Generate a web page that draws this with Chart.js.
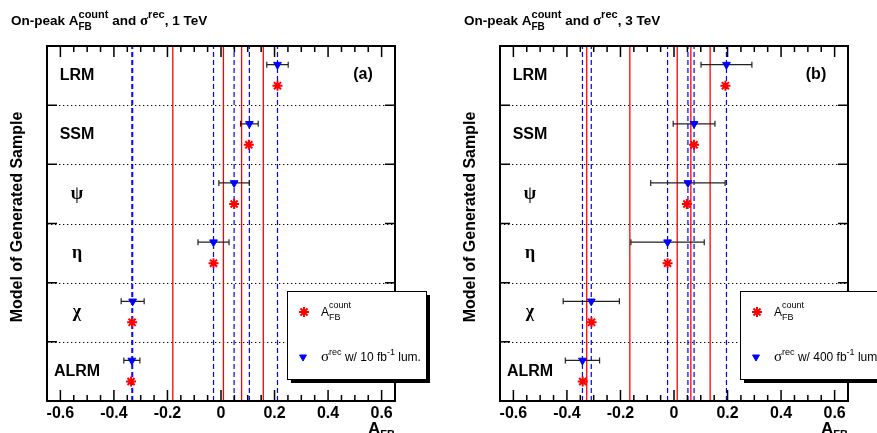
<!DOCTYPE html>
<html><head><meta charset="utf-8">
<script src="https://cdn.jsdelivr.net/npm/chart.js@4.4.0/dist/chart.umd.min.js"></script>
<style>
html,body{margin:0;padding:0;overflow:hidden;background:#fff;width:877px;height:433px;}
canvas{position:absolute;top:0;}
#c1{left:0}
#c2{left:453px}
</style></head><body>
<canvas id="c1" width="440" height="433"></canvas>
<canvas id="c2" width="440" height="433"></canvas>
<script>
// ---- data ----
const categories = ['LRM', 'SSM', 'ψ', 'η', 'χ', 'ALRM'];   // top to bottom
const xTickLabels = [-0.6, -0.4, -0.2, 0, 0.2, 0.4, 0.6];

// 1 TeV
const afbCount1 = [0.211, 0.104, 0.049, -0.028, -0.332, -0.336];
const sigmaRec1 = [0.211, 0.106, 0.049, -0.028, -0.330, -0.333];
const sigmaErr1 = [0.040, 0.033, 0.057, 0.058, 0.043, 0.030];
const redLines1 = [-0.180, 0.009, 0.077, 0.158];
const blueLines1 = [-0.333, -0.330, -0.028, 0.049, 0.106, 0.211];

// 3 TeV
const afbCount3 = [0.192, 0.075, 0.048, -0.024, -0.308, -0.341];
const sigmaRec3 = [0.196, 0.075, 0.052, -0.024, -0.309, -0.342];
const sigmaErr3 = [0.095, 0.078, 0.139, 0.137, 0.105, 0.064];
const redLines3 = [-0.326, -0.165, 0.012, 0.063, 0.135];
const blueLines3 = [-0.342, -0.309, -0.024, 0.052, 0.075, 0.196];

const FONT = "'Liberation Sans', Arial, Helvetica, sans-serif";
const SERIF = "'Liberation Serif', 'DejaVu Serif', serif";

function drawSegs(ctx, x, y, segs, weight) {
  let stackW = null;
  for (const s of segs) {
    ctx.font = `${weight} ${s.size}px ${s.serif ? SERIF : FONT}`;
    ctx.fillText(s.t, x, y + (s.dy || 0));
    const w = ctx.measureText(s.t).width;
    if (s.stack) { stackW = w; }
    else if (stackW !== null) { x += Math.max(stackW, w); stackW = null; }
    else x += w;
  }
}

const panelPlugin = {
  id: 'panel',
  beforeDatasetsDraw(chart) {
    const {ctx, chartArea: a, scales: {y}} = chart;
    ctx.save();
    ctx.strokeStyle = '#000';
    ctx.lineWidth = 1.2;
    ctx.setLineDash([1.3, 2.7]);
    for (let k = 1; k < categories.length; k++) {
      const py = Math.round(y.getPixelForValue(k)) + 0.5;
      ctx.beginPath(); ctx.moveTo(a.left, py); ctx.lineTo(a.right, py); ctx.stroke();
    }
    ctx.restore();
  },
  beforeDatasetDraw(chart, args) {
    const ds = chart.data.datasets[args.index];
    if (!ds.errs) return;
    const {ctx, scales: {x, y}} = chart;
    ctx.save();
    ctx.strokeStyle = '#222';
    ctx.lineWidth = 1.2;
    ds.data.forEach((p, i) => {
      const e = ds.errs[i];
      const x0 = x.getPixelForValue(p.x - e), x1 = x.getPixelForValue(p.x + e);
      const py = y.getPixelForValue(p.y);
      ctx.beginPath();
      ctx.moveTo(x0, py); ctx.lineTo(x1, py);
      ctx.moveTo(x0, py - 3); ctx.lineTo(x0, py + 3);
      ctx.moveTo(x1, py - 3); ctx.lineTo(x1, py + 3);
      ctx.stroke();
    });
    ctx.restore();
  },
  afterDraw(chart) {
    const {ctx, chartArea: a, scales: {x, y}} = chart;
    const P = chart.options.plugins.panel;
    ctx.save();
    ctx.fillStyle = '#000';
    ctx.strokeStyle = '#000';
    // x ticks top & bottom (inward)
    ctx.lineWidth = 1.5;
    for (let k = -13; k <= 13; k++) {
      const v = k * 0.05;
      const px = x.getPixelForValue(v);
      const len = (k % 4 === 0) ? 11 : 6;
      ctx.beginPath();
      ctx.moveTo(px, a.bottom); ctx.lineTo(px, a.bottom - len);
      ctx.moveTo(px, a.top); ctx.lineTo(px, a.top + len);
      ctx.stroke();
    }
    // y ticks at row boundaries
    for (let k = 1; k < categories.length; k++) {
      const py = y.getPixelForValue(k);
      ctx.beginPath();
      ctx.moveTo(a.left, py); ctx.lineTo(a.left + 10, py);
      ctx.moveTo(a.right, py); ctx.lineTo(a.right - 10, py);
      ctx.stroke();
    }
    // frame
    ctx.lineWidth = 2;
    ctx.strokeRect(a.left, a.top, a.right - a.left, a.bottom - a.top);
    // row labels
    ctx.textAlign = 'center';
    ctx.textBaseline = 'middle';
    categories.forEach((c, i) => {
      const greek = c.length === 1;
      ctx.font = greek ? `bold 18px ${SERIF}` : `bold 16px ${FONT}`;
      ctx.fillText(c, a.left + 30, y.getPixelForValue(categories.length - 1 - i + 0.5));
    });
    // panel label
    ctx.font = `bold 16px ${FONT}`;
    ctx.fillText(P.label, a.right - 32, a.top + 29);
    // y title
    ctx.save();
    ctx.translate(18, 217);
    ctx.rotate(-Math.PI / 2);
    ctx.font = `bold 16px ${FONT}`;
    ctx.fillText('Model of Generated Sample', 0, 0);
    ctx.restore();
    // title
    ctx.textAlign = 'left';
    ctx.textBaseline = 'alphabetic';
    drawSegs(ctx, 11, 25, [
      {t: 'On-peak A', size: 13.5},
      {t: 'count', size: 11, dy: -7, stack: true},
      {t: 'FB', size: 10, dy: 5},
      {t: ' and ', size: 13.5},
      {t: 'σ', size: 15, serif: true},
      {t: 'rec', size: 11, dy: -7},
      {t: ', ' + P.energy, size: 13.5}
    ], 'bold');
    // x title
    drawSegs(ctx, a.right - 27, 434, [
      {t: 'A', size: 17},
      {t: 'FB', size: 11, dy: 4}
    ], 'bold');
    // legend
    const lx = 287, ly = 291, lw = 139, lh = 88;
    ctx.fillStyle = '#000';
    ctx.fillRect(lx + 4, ly + 4, lw, lh);
    ctx.fillStyle = '#fff';
    ctx.fillRect(lx, ly, lw, lh);
    ctx.lineWidth = 1;
    ctx.strokeRect(lx + 0.5, ly + 0.5, lw, lh);
    ctx.strokeStyle = '#ff0000';
    ctx.lineWidth = 2;
    Chart.helpers.drawPoint(ctx, {pointStyle: 'star', radius: 5, rotation: 0, borderWidth: 2}, lx + 17, ly + 21);
    ctx.fillStyle = '#0000ff';
    ctx.strokeStyle = '#0000ff';
    ctx.lineWidth = 1;
    Chart.helpers.drawPoint(ctx, {pointStyle: 'triangle', radius: 4, rotation: 180, borderWidth: 1}, lx + 16, ly + 66);
    ctx.fillStyle = '#000';
    drawSegs(ctx, lx + 34, ly + 25, [
      {t: 'A', size: 12},
      {t: 'count', size: 9, dy: -8, stack: true},
      {t: 'FB', size: 9, dy: 3.5}
    ], 'normal');
    drawSegs(ctx, lx + 34, ly + 70, [
      {t: 'σ', size: 15, serif: true},
      {t: 'rec', size: 9, dy: -6},
      {t: ' w/ ' + P.lumi + ' fb', size: 12},
      {t: '-1', size: 9, dy: -6},
      {t: ' lum.', size: 12}
    ], 'normal');
    ctx.restore();
  }
};

function makePanel(id, label, energy, lumi, afb, sig, err, red, blue) {
  const datasets = [];
  red.forEach(v => datasets.push({
    type: 'line', data: [{x: v, y: 0}, {x: v, y: 6}],
    borderColor: '#ff0000', borderWidth: 1.3, pointRadius: 0, order: 4
  }));
  blue.forEach(v => datasets.push({
    type: 'line', data: [{x: v, y: 0}, {x: v, y: 6}],
    borderColor: '#0000ff', borderWidth: 1.2, borderDash: [5, 3], pointRadius: 0, order: 3
  }));
  datasets.push({
    type: 'scatter', label: 'sigma',
    data: sig.map((v, i) => ({x: v, y: categories.length - 1 - i + 0.685})),
    pointStyle: 'triangle', pointRotation: 180, pointRadius: 4.5,
    pointBackgroundColor: '#0000ff', pointBorderColor: '#0000ff', pointBorderWidth: 1,
    errs: err, order: 1
  });
  datasets.push({
    type: 'scatter', label: 'afb',
    data: afb.map((v, i) => ({x: v, y: categories.length - 1 - i + 0.33})),
    pointStyle: 'star', pointRadius: 5,
    pointBorderColor: '#ff0000', pointBorderWidth: 2, order: 2
  });
  return new Chart(document.getElementById(id), {
    type: 'scatter',
    data: {datasets},
    plugins: [panelPlugin],
    options: {
      responsive: false, animation: false, events: [],
      devicePixelRatio: 1,
      layout: {padding: {left: 47, right: 45, top: 46, bottom: 0}},
      plugins: {legend: {display: false}, tooltip: {enabled: false},
        panel: {label, energy, lumi}},
      scales: {
        x: {
          type: 'linear', min: -0.65, max: 0.65, position: 'bottom',
          grid: {display: false, drawTicks: false}, border: {display: false},
          afterBuildTicks: s => { s.ticks = xTickLabels.map(v => ({value: v})); },
          afterFit: s => { s.height = 32; },
          ticks: {
            font: {family: FONT, weight: 'bold', size: 16}, color: '#000',
            padding: 3, maxRotation: 0, autoSkip: false,
            callback: v => (Math.abs(v) < 1e-9 ? '0' : String(Math.round(v * 10) / 10))
          }
        },
        y: {type: 'linear', min: 0, max: 6, display: false}
      }
    }
  });
}

makePanel('c1', '(a)', '1 TeV', '10', afbCount1, sigmaRec1, sigmaErr1, redLines1, blueLines1);
makePanel('c2', '(b)', '3 TeV', '400', afbCount3, sigmaRec3, sigmaErr3, redLines3, blueLines3);
</script>
</body></html>
